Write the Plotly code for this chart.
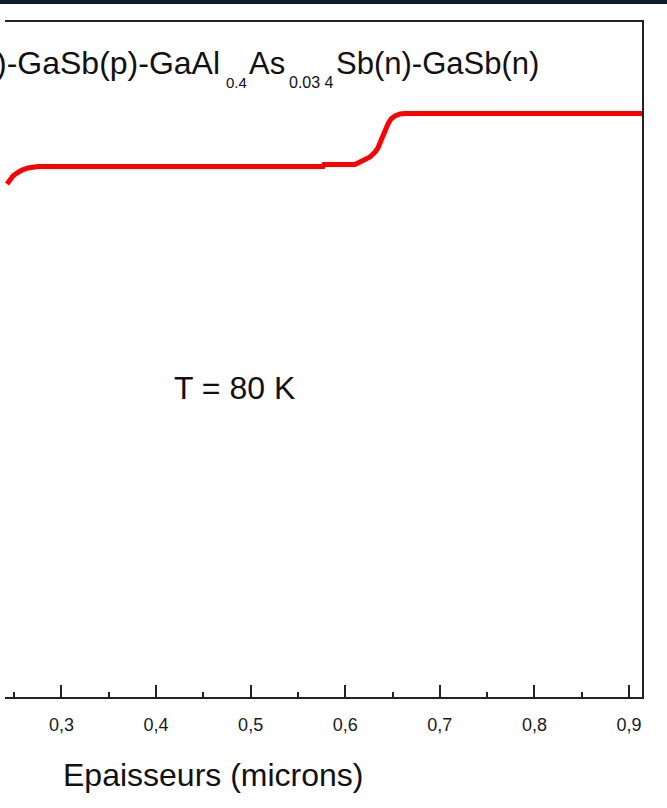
import plotly.graph_objects as go

# Data (thickness in microns, relative energy level)
thickness = [0.2424, 0.2455, 0.2487, 0.2529, 0.2582, 0.2646, 0.2752, 0.3200,
             0.4500, 0.5765, 0.5775, 0.6103, 0.6156, 0.6209, 0.6262, 0.6315,
             0.6346, 0.6389, 0.6420, 0.6452, 0.6484, 0.6526, 0.6579, 0.6632,
             0.8000, 0.9140]
level = [0.760, 0.7674, 0.7719, 0.7763, 0.7807, 0.7837, 0.7859, 0.7859,
         0.7859, 0.7859, 0.7889, 0.7889, 0.7926, 0.7956, 0.8000, 0.8074,
         0.8133, 0.8281, 0.8400, 0.8489, 0.8563, 0.8607, 0.8637, 0.8644,
         0.8644, 0.8644]

x_range = [0.2403, 0.91375]
tick_vals = [0.3, 0.4, 0.5, 0.6, 0.7, 0.8, 0.9]
tick_text = ["0,3", "0,4", "0,5", "0,6", "0,7", "0,8", "0,9"]

W, H = 667, 808
L, R, T, B = 5, 642, 22, 697
FONT = "Liberation Sans, Arial, sans-serif"


def px(x):
    return (x - L) / (R - L)


def py(y):
    return (B - y) / (B - T)


fig = go.Figure()
fig.add_trace(go.Scatter(x=thickness, y=level, mode="lines",
                         line=dict(color="#ff0000", width=5),
                         showlegend=False, hoverinfo="skip"))

annotations = []


def add_text(text, x, y, size, xanchor="left", color="#111111"):
    annotations.append(dict(text=text, x=px(x), y=py(y), xref="paper", yref="paper",
                            xanchor=xanchor, yanchor="middle", showarrow=False,
                            font=dict(family=FONT, size=size, color=color)))


# Title pieces (chemical formula with subscripts)
add_text(")-GaSb(p)-GaAl", 222, 63, 32, xanchor="right")
add_text("0.4", 224, 83, 15)
add_text("As", 247, 63, 31)
add_text("0.03 4", 287, 83, 16)
add_text("Sb(n)-GaSb(n)", 334, 63, 31)

add_text("T = 80 K", 172, 388, 32)
add_text("Epaisseurs (microns)", 61, 775, 32)

fig.update_layout(
    width=W, height=H,
    margin=dict(l=L, r=W - R, t=T, b=H - B, pad=0),
    paper_bgcolor="white", plot_bgcolor="white",
    separators=", ",
    annotations=annotations,
    shapes=[dict(type="rect", xref="paper", yref="paper",
                 x0=px(-2), x1=px(670), y0=py(4), y1=py(-3),
                 fillcolor="#0b1a33", line=dict(width=0), layer="above")],
    xaxis=dict(range=x_range, showgrid=False, zeroline=False,
               showline=True, linecolor="#222222", linewidth=2, mirror=True,
               ticks="inside", ticklen=12, tickwidth=2, tickcolor="#222222",
               tickvals=tick_vals, ticktext=tick_text, ticklabelstandoff=10,
               tickfont=dict(family=FONT, size=18, color="#1a1a1a"),
               minor=dict(tickvals=[0.25, 0.35, 0.45, 0.55, 0.65, 0.75, 0.85],
                          ticks="inside", ticklen=5, tickwidth=2,
                          tickcolor="#222222", showgrid=False)),
    yaxis=dict(range=[0, 1], side="right", showgrid=False, zeroline=False,
               showline=True, linecolor="#222222", linewidth=2,
               ticks="", showticklabels=False),
)

fig.write_html("out.html", config={"displayModeBar": False},
               post_script="document.body.style.margin='0';")
